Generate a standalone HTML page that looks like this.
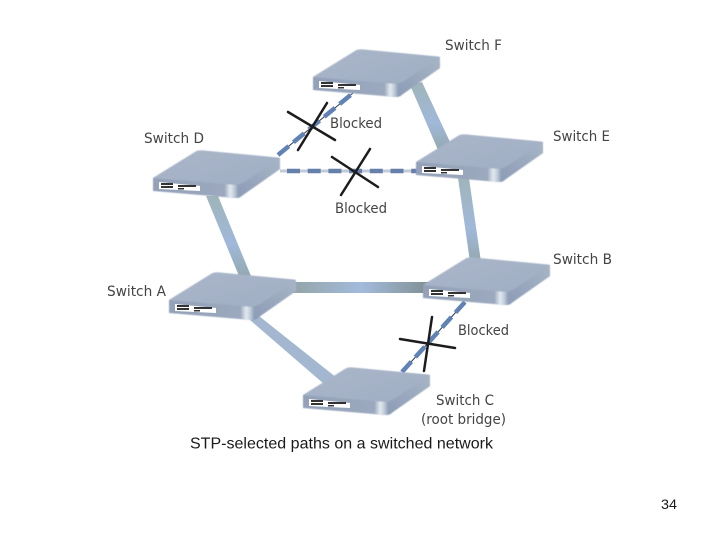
<!DOCTYPE html>
<html><head><meta charset="utf-8">
<style>
html,body{margin:0;padding:0;background:#fff;width:720px;height:540px;overflow:hidden}
svg{display:block}
.l{font-family:"DejaVu Sans","Liberation Sans",sans-serif;font-size:14px;fill:#444}
.c{font-family:"Liberation Sans",sans-serif;font-size:16px;fill:#1a1a1a}
</style></head><body>
<svg width="720" height="540" viewBox="0 0 720 540" xmlns="http://www.w3.org/2000/svg">
<defs>
<filter id="soft" x="-5%" y="-5%" width="110%" height="110%"><feGaussianBlur stdDeviation="0.4"/></filter>
<linearGradient id="top" x1="0" y1="0" x2="1" y2="1"><stop offset="0" stop-color="#aab6c9"/><stop offset="1" stop-color="#a0aec4"/></linearGradient>
<linearGradient id="front" x1="0" y1="0" x2="1" y2="0"><stop offset="0" stop-color="#93a1b8"/><stop offset="1" stop-color="#a2afc3"/></linearGradient>
<linearGradient id="corner" x1="0" y1="0" x2="1" y2="0"><stop offset="0" stop-color="#a4b1c5"/><stop offset=".4" stop-color="#e4eaef"/><stop offset=".7" stop-color="#c3cedb"/><stop offset="1" stop-color="#90a1ba"/></linearGradient>
<linearGradient id="side" x1="0" y1="1" x2="1" y2="0"><stop offset="0" stop-color="#8c9cb6"/><stop offset="1" stop-color="#a8b5c6"/></linearGradient>
<linearGradient id="h" x1="0" y1="0" x2="1" y2="0"><stop offset="0" stop-color="#93a4a6"/><stop offset=".5" stop-color="#a3bbdc"/><stop offset="1" stop-color="#7f8e90"/></linearGradient>
<linearGradient id="v" x1="0" y1="0" x2="0" y2="1"><stop offset="0" stop-color="#9fb5ba"/><stop offset=".6" stop-color="#a0b8da"/><stop offset="1" stop-color="#94a9b0"/></linearGradient>
<g id="sw">
<g filter="url(#soft)">
<path d="M0 0 L42 -26 Q45 -28 50 -27.5 L127 -20 L127 -9 L90 17 Q86 20 82 20 L0 13 Z" fill="url(#front)"/>
<path d="M84 7 Q88 6 91 4 L127 -20 L127 -9 L90 17 Q87 20 84 20 Z" fill="url(#side)"/>
<path d="M72 6 L85 7 L85 20 L72 19 Z" fill="url(#corner)"/>
<path d="M0 0 L42 -26 Q45 -28 50 -27.5 L125 -20.5 Q128 -20 125 -18 L91 4 Q86 7 78 6.5 Z" fill="url(#top)"/>
</g>
<path d="M6 4 L47 8 L47 13 L6 11 Z" fill="#fff"/>
<path d="M8 5 H20 V7 H8 Z M8 8 H20 V10 H8 Z M25 7 H43 V9 H25 Z M25 10 H31 V11.5 H25 Z" fill="#333"/>
</g>
</defs>

<!-- solid links -->
<path d="M410 85 L422 82 L450 142 L438 150 Z" fill="url(#v)"/>
<path d="M458 178 L469 178 L481 262 L470 262 Z" fill="url(#v)"/>
<path d="M206 196 L218 196 L251 276 L239 276 Z" fill="url(#v)"/>
<path d="M290 282 H432 V293 H290 Z" fill="url(#h)"/>
<path d="M250 320 L259 316 L337 378 L324 384 Z" fill="#a3b8d0"/>

<!-- blocked links -->
<g fill="none">
<line x1="278" y1="155" x2="353" y2="93" stroke="#2c3a55" stroke-width="1"/>
<line x1="278" y1="155" x2="353" y2="93" stroke="#6182b5" stroke-width="4.5" stroke-dasharray="14 6"/>
<line x1="280" y1="171" x2="418" y2="171" stroke="#c3cad6" stroke-width="3"/>
<line x1="287" y1="171" x2="418" y2="171" stroke="#6580ab" stroke-width="4.5" stroke-dasharray="13 7.7"/>
<line x1="402" y1="372" x2="465" y2="302" stroke="#2c3a55" stroke-width="1"/>
<line x1="402" y1="372" x2="465" y2="302" stroke="#6182b5" stroke-width="4.5" stroke-dasharray="14 6"/>
</g>

<!-- switches -->
<use href="#sw" x="313" y="77"/>
<use href="#sw" x="416" y="162"/>
<use href="#sw" x="153" y="178"/>
<use href="#sw" x="169" y="300"/>
<use href="#sw" x="423" y="285"/>
<use href="#sw" x="303" y="395"/>

<!-- crosses -->
<g stroke="#1c1c1c" stroke-width="2.5" stroke-linecap="round">
<line x1="288" y1="112" x2="335" y2="140"/>
<line x1="298" y1="150" x2="327" y2="103"/>
<line x1="332" y1="157" x2="378" y2="187"/>
<line x1="341" y1="195" x2="370" y2="149"/>
<line x1="400" y1="339" x2="455" y2="348"/>
<line x1="424" y1="371" x2="432" y2="317"/>
</g>

<!-- labels -->
<text class="l" x="445" y="50" textLength="57" lengthAdjust="spacingAndGlyphs">Switch F</text>
<text class="l" x="553" y="141" textLength="57" lengthAdjust="spacingAndGlyphs">Switch E</text>
<text class="l" x="144" y="143" textLength="60" lengthAdjust="spacingAndGlyphs">Switch D</text>
<text class="l" x="107" y="296" textLength="59" lengthAdjust="spacingAndGlyphs">Switch A</text>
<text class="l" x="553" y="264" textLength="59" lengthAdjust="spacingAndGlyphs">Switch B</text>
<text class="l" x="436" y="405" textLength="58" lengthAdjust="spacingAndGlyphs">Switch C</text>
<text class="l" x="421" y="424" textLength="85" lengthAdjust="spacingAndGlyphs">(root bridge)</text>
<text class="l" x="330" y="128" textLength="52" lengthAdjust="spacingAndGlyphs">Blocked</text>
<text class="l" x="335" y="213" textLength="52" lengthAdjust="spacingAndGlyphs">Blocked</text>
<text class="l" x="458" y="335" textLength="51" lengthAdjust="spacingAndGlyphs">Blocked</text>
<text class="c" x="190" y="448.5" textLength="303" lengthAdjust="spacing">STP-selected paths on a switched network</text>
<text class="c" x="661" y="509" style="font-size:14px" textLength="16" lengthAdjust="spacingAndGlyphs">34</text>
</svg>
</body></html>
